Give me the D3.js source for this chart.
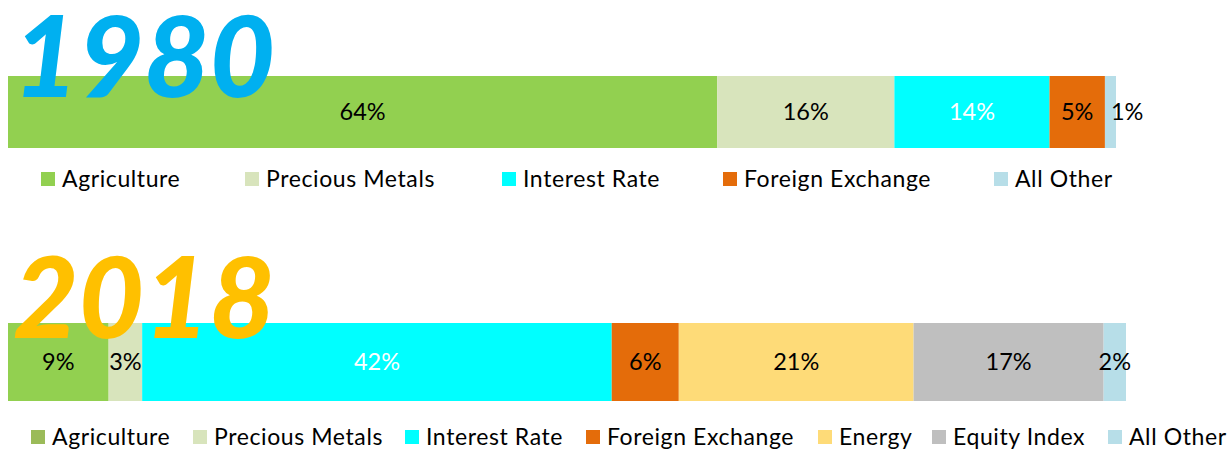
<!DOCTYPE html>
<html><head><meta charset="utf-8">
<script src="https://cdn.jsdelivr.net/npm/d3@7"></script>
<style>body{margin:0;background:#fff;} svg{display:block;}</style>
</head><body>
<svg id="c" width="1228" height="449"></svg>
<script>
const cats1980 = ["Agriculture","Precious Metals","Interest Rate","Foreign Exchange","All Other"];
const vals1980 = [64,16,14,5,1];
const colors1980 = ["#92D050","#D8E4BC","#00FFFF","#E46C0A","#B7DEE8"];
const legendColors1980 = ["#92D050","#D8E4BC","#00FFFF","#E46C0A","#B7DEE8"];

const cats2018 = ["Agriculture","Precious Metals","Interest Rate","Foreign Exchange","Energy","Equity Index","All Other"];
const vals2018 = [9,3,42,6,21,17,2];
const colors2018 = ["#92D050","#D8E4BC","#00FFFF","#E46C0A","#FEDB78","#BFBFBF","#B7DEE8"];
const legendColors2018 = ["#9BBB59","#D8E4BC","#00FFFF","#E46C0A","#FEDB78","#BFBFBF","#B7DEE8"];
const whiteLabel = ["Interest Rate"];

const svg = d3.select("#c");
const FONT = "Lato, 'Open Sans', sans-serif";

function panel(cfg){
  const g = svg.append("g");
  const x = d3.scaleLinear().domain([0, d3.sum(cfg.vals)]).range(cfg.xr);
  const y = d3.scaleBand().domain([cfg.title]).range(cfg.yr).padding(0);
  const stacked = cfg.vals.map((v,i)=>({cat:cfg.cats[i], v, x0:d3.sum(cfg.vals.slice(0,i)), color:cfg.colors[i]}));
  g.selectAll("rect.seg").data(stacked).join("rect")
    .attr("x", d=>x(d.x0)).attr("width", d=>x(d.x0+d.v)-x(d.x0))
    .attr("y", y(cfg.title)).attr("height", y.bandwidth())
    .attr("fill", d=>d.color);
  g.selectAll("text.lbl").data(stacked).join("text")
    .attr("x", (d,i)=> (cfg.startLast && i===stacked.length-1) ? x(d.x0)+6 : (x(d.x0)+x(d.x0+d.v))/2)
    .attr("text-anchor", (d,i)=> (cfg.startLast && i===stacked.length-1) ? "start" : "middle")
    .attr("y", y(cfg.title)+y.bandwidth()/2)
    .attr("dy","0.36em")
    .attr("font-family", FONT).attr("font-size", 23.5)
    .attr("fill", d=> whiteLabel.includes(d.cat) ? "#fff" : "#000")
    .text(d=>d.v+"%");
  // legend
  const lg = g.append("g");
  cfg.cats.forEach((c,i)=>{
    lg.append("rect").attr("x", cfg.legX[i]).attr("y", cfg.legY-7).attr("width",14).attr("height",14).attr("fill", cfg.legColors[i]);
    lg.append("text").attr("x", cfg.legX[i]+21).attr("y", cfg.legY).attr("dy","0.36em")
      .attr("font-family", FONT).attr("font-size", 23).attr("letter-spacing", 0.6).attr("fill","#000").text(c);
  });
  // title
  g.append("text").attr("x", cfg.titleX).attr("y", cfg.titleY)
    .attr("font-family", FONT).attr("font-weight", 900).attr("font-style","italic")
    .attr("font-size", 113).attr("fill", cfg.titleColor).text(cfg.title);
}

panel({title:"1980", cats:cats1980, vals:vals1980, colors:colors1980, legColors:legendColors1980,
  xr:[8,1116], yr:[76,148], legX:[41,245,502,723,994], legY:179, titleX:13, titleY:97, titleColor:"#00B0F0", startLast:true});
panel({title:"2018", cats:cats2018, vals:vals2018, colors:colors2018, legColors:legendColors2018,
  xr:[8,1126], yr:[323,401], legX:[31,193,405,586,818,932,1108], legY:437, titleX:13, titleY:338, titleColor:"#FFC000", startLast:false});
</script>
</body></html>
